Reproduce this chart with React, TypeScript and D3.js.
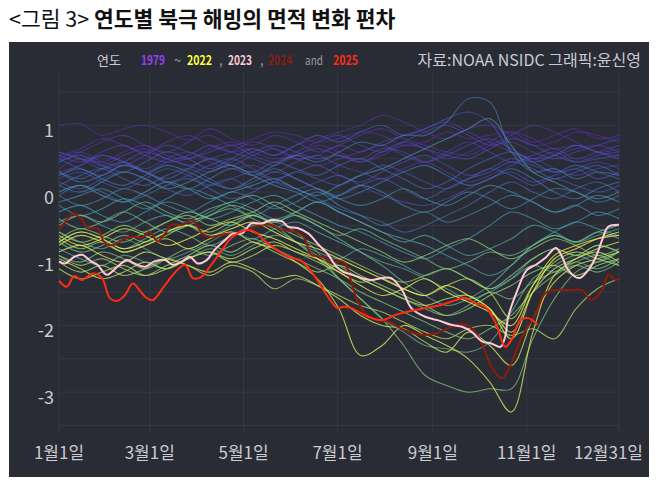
import React from 'react';
import * as d3 from 'd3';

// sample days for the background years (every 14 days)
const sampleDays = [0, 14, 28, 42, 56, 70, 84, 98, 112, 126, 140, 154, 168, 182, 196, 210, 224, 238, 252, 266, 280, 294, 308, 322, 336, 350, 364];

const bgYears = [1979, 1980, 1981, 1982, 1983, 1984, 1985, 1986, 1987, 1988, 1989, 1990, 1991, 1992, 1993, 1994, 1995, 1996, 1997, 1998, 1999, 2000, 2001, 2002, 2003, 2004, 2005, 2006, 2007, 2008, 2009, 2010, 2011, 2012, 2013, 2014, 2015, 2016, 2017, 2018, 2019, 2020, 2021, 2022];

const bgSeries: number[][] = [
  [1.0, 1.02, 0.85, 0.95, 1.0, 0.9, 0.78, 0.85, 0.7, 0.8, 0.9, 0.85, 0.75, 0.8, 0.9, 0.85, 0.7, 0.75, 0.9, 0.8, 0.85, 0.9, 0.75, 0.85, 0.95, 0.8, 0.85],
  [0.55, 0.65, 0.8, 0.7, 0.6, 0.75, 0.85, 0.7, 0.6, 0.65, 0.55, 0.7, 0.8, 0.9, 1.0, 1.15, 1.05, 0.9, 0.8, 0.95, 1.0, 0.85, 0.7, 0.75, 0.9, 0.85, 0.75],
  [0.6, 0.5, 0.45, 0.6, 0.7, 0.55, 0.5, 0.65, 0.75, 0.6, 0.5, 0.55, 0.7, 0.6, 0.45, 0.55, 0.7, 0.65, 0.5, 0.6, 0.75, 0.9, 0.8, 0.65, 0.7, 0.6, 0.55],
  [0.45, 0.6, 0.75, 0.85, 0.7, 0.6, 0.75, 0.95, 0.8, 0.7, 0.85, 0.75, 0.6, 0.7, 0.85, 0.95, 0.8, 0.7, 0.6, 0.55, 0.7, 0.85, 1.0, 0.9, 0.75, 0.6, 0.65],
  [0.35, 0.5, 0.4, 0.55, 0.65, 0.5, 0.4, 0.5, 0.6, 0.75, 0.65, 0.5, 0.55, 0.7, 0.6, 0.75, 0.85, 0.95, 1.05, 0.9, 0.75, 0.6, 0.5, 0.55, 0.65, 0.7, 0.6],
  [0.3, 0.4, 0.55, 0.45, 0.35, 0.5, 0.6, 0.45, 0.35, 0.4, 0.3, 0.45, 0.55, 0.4, 0.3, 0.2, 0.35, 0.45, 0.3, 0.15, 0.25, 0.4, 0.5, 0.35, 0.25, 0.35, 0.4],
  [0.5, 0.6, 0.45, 0.4, 0.55, 0.7, 0.6, 0.5, 0.4, 0.55, 0.65, 0.5, 0.4, 0.5, 0.6, 0.7, 0.55, 0.45, 0.6, 0.75, 0.6, 0.45, 0.55, 0.65, 0.5, 0.6, 0.7],
  [0.55, 0.45, 0.6, 0.7, 0.55, 0.45, 0.5, 0.6, 0.7, 0.55, 0.45, 0.6, 0.75, 0.85, 0.7, 0.6, 0.75, 0.9, 1.0, 0.85, 0.7, 0.75, 0.6, 0.5, 0.6, 0.7, 0.8],
  [0.25, 0.4, 0.55, 0.45, 0.3, 0.45, 0.55, 0.7, 0.6, 0.5, 0.4, 0.55, 0.65, 0.55, 0.5, 0.65, 0.6, 0.45, 0.55, 0.7, 0.8, 0.65, 0.5, 0.6, 0.45, 0.55, 0.6],
  [0.6, 0.5, 0.35, 0.45, 0.6, 0.5, 0.4, 0.3, 0.45, 0.6, 0.7, 0.6, 0.5, 0.55, 0.45, 0.6, 0.75, 0.65, 0.55, 0.5, 0.65, 0.8, 0.7, 0.55, 0.45, 0.5, 0.55],
  [0.5, 0.35, 0.25, 0.4, 0.3, 0.15, 0.25, 0.4, 0.5, 0.35, 0.2, 0.3, 0.4, 0.25, 0.15, 0.3, 0.45, 0.55, 0.4, 0.25, 0.35, 0.5, 0.4, 0.3, 0.35, 0.45, 0.35],
  [0.2, 0.3, 0.15, 0.05, 0.2, 0.35, 0.25, 0.1, 0.2, 0.3, 0.15, 0.05, 0.15, 0.25, 0.1, -0.05, -0.15, -0.2, -0.1, 0.05, 0.2, 0.3, 0.15, 0.25, 0.35, 0.2, 0.3],
  [0.15, 0.05, 0.2, 0.3, 0.2, 0.05, -0.05, 0.1, 0.2, 0.05, 0.15, 0.3, 0.2, 0.1, 0.25, 0.4, 0.3, 0.15, 0.05, 0.2, 0.35, 0.25, 0.1, 0.2, 0.1, 0.0, 0.1],
  [0.45, 0.55, 0.4, 0.3, 0.45, 0.6, 0.5, 0.35, 0.5, 0.65, 0.55, 0.7, 0.85, 0.75, 0.9, 1.0, 0.85, 0.95, 1.1, 1.2, 1.05, 0.6, 0.45, 0.55, 0.7, 0.6, 0.5],
  [0.1, 0.25, 0.35, 0.2, 0.1, 0.25, 0.35, 0.2, 0.05, 0.15, 0.3, 0.2, 0.05, -0.05, 0.1, 0.2, 0.05, -0.1, 0.05, 0.2, 0.3, 0.45, 0.35, 0.2, 0.3, 0.4, 0.25],
  [0.3, 0.2, 0.35, 0.45, 0.3, 0.2, 0.35, 0.5, 0.4, 0.3, 0.45, 0.35, 0.25, 0.4, 0.5, 0.35, 0.2, 0.05, 0.15, 0.35, 0.5, 0.6, 0.45, 0.3, 0.4, 0.3, 0.2],
  [-0.05, 0.1, 0.0, -0.15, -0.05, 0.1, 0.2, 0.05, -0.1, 0.0, 0.15, 0.05, -0.1, -0.25, -0.35, -0.45, -0.6, -0.5, -0.35, -0.2, 0.0, 0.15, 0.0, -0.1, 0.05, 0.15, 0.0],
  [0.3, 0.15, 0.25, 0.4, 0.3, 0.15, 0.05, 0.2, 0.35, 0.25, 0.4, 0.55, 0.45, 0.6, 0.75, 0.7, 0.85, 0.85, 1.05, 1.4, 1.35, 0.6, 0.3, 0.35, 0.2, 0.3, 0.25],
  [0.25, 0.35, 0.2, 0.1, 0.25, 0.4, 0.3, 0.15, 0.05, 0.2, 0.35, 0.2, 0.05, -0.1, 0.0, 0.15, 0.3, 0.4, 0.25, 0.1, 0.2, 0.35, 0.2, 0.0, -0.1, 0.05, 0.15],
  [0.1, 0.0, 0.15, 0.3, 0.2, 0.05, 0.15, 0.3, 0.4, 0.25, 0.1, 0.0, -0.15, -0.05, 0.1, 0.0, -0.2, -0.3, -0.15, 0.0, -0.1, -0.25, -0.1, 0.05, 0.0, -0.15, -0.05],
  [-0.05, -0.2, -0.1, 0.05, -0.05, -0.2, -0.3, -0.15, 0.0, -0.1, -0.25, -0.15, 0.0, -0.2, -0.35, -0.5, -0.4, -0.3, -0.45, -0.35, -0.2, -0.05, -0.15, -0.3, -0.2, -0.05, -0.15],
  [-0.15, -0.05, 0.05, -0.1, -0.25, -0.1, 0.05, -0.05, -0.2, -0.35, -0.2, -0.05, 0.05, -0.1, -0.2, -0.1, 0.05, -0.1, -0.2, -0.05, 0.1, 0.0, -0.15, -0.3, -0.2, -0.35, -0.25],
  [0.0, 0.1, -0.05, -0.15, 0.0, 0.15, 0.05, -0.1, 0.0, 0.1, 0.2, 0.05, -0.05, 0.1, 0.25, 0.35, 0.5, 0.65, 0.8, 0.95, 1.1, 0.7, 0.3, 0.15, 0.0, -0.1, 0.0],
  [-0.3, -0.2, -0.35, -0.45, -0.3, -0.15, -0.25, -0.4, -0.3, -0.15, -0.05, -0.2, -0.35, -0.5, -0.6, -0.75, -0.9, -1.0, -0.85, -0.7, -0.5, -0.3, -0.4, -0.55, -0.45, -0.3, -0.4],
  [-0.2, -0.35, -0.25, -0.1, -0.2, -0.35, -0.45, -0.3, -0.15, -0.25, -0.4, -0.3, -0.15, -0.3, -0.45, -0.6, -0.7, -0.8, -0.95, -1.1, -1.25, -1.1, -0.8, -0.6, -0.45, -0.55, -0.65],
  [-0.45, -0.35, -0.5, -0.6, -0.45, -0.35, -0.5, -0.65, -0.5, -0.35, -0.45, -0.3, -0.15, -0.3, -0.45, -0.6, -0.75, -0.65, -0.8, -0.95, -0.85, -0.7, -0.5, -0.6, -0.75, -0.65, -0.55],
  [-0.6, -0.75, -0.85, -0.7, -0.85, -1.0, -0.9, -0.75, -0.6, -0.7, -0.55, -0.45, -0.6, -0.75, -0.9, -1.05, -1.15, -1.3, -1.45, -1.6, -1.5, -1.3, -1.0, -0.85, -0.95, -0.8, -0.9],
  [-0.85, -1.0, -1.1, -0.95, -1.05, -1.15, -1.0, -0.85, -0.95, -0.8, -0.65, -0.75, -0.9, -1.0, -0.85, -0.95, -1.1, -1.25, -1.15, -1.3, -1.45, -1.3, -1.1, -1.2, -1.05, -0.95, -1.1],
  [-0.75, -0.6, -0.7, -0.85, -0.7, -0.55, -0.65, -0.8, -0.65, -0.5, -0.45, -0.6, -0.9, -1.3, -1.6, -1.9, -2.1, -2.3, -2.35, -2.4, -2.25, -1.8, -1.3, -1.1, -0.95, -1.05, -0.9],
  [-0.5, -0.35, -0.45, -0.3, -0.15, -0.3, -0.4, -0.25, -0.15, -0.05, -0.2, -0.35, -0.5, -0.7, -0.9, -1.1, -1.35, -1.55, -1.7, -1.6, -1.4, -1.1, -0.8, -0.65, -0.75, -0.6, -0.7],
  [-0.4, -0.55, -0.45, -0.3, -0.45, -0.6, -0.5, -0.35, -0.2, -0.3, -0.45, -0.35, -0.5, -0.65, -0.55, -0.7, -0.85, -1.0, -1.15, -1.05, -0.9, -0.95, -0.8, -0.65, -0.75, -0.6, -0.5],
  [-0.75, -0.9, -0.8, -0.65, -0.75, -0.6, -0.45, -0.35, -0.25, -0.4, -0.55, -0.75, -0.95, -1.1, -1.3, -1.45, -1.6, -1.75, -1.85, -1.7, -1.5, -1.6, -1.35, -1.2, -1.05, -1.15, -1.0],
  [-0.95, -1.05, -0.9, -1.0, -1.15, -1.0, -0.85, -0.95, -0.8, -0.7, -0.85, -1.0, -1.15, -1.3, -1.5, -1.65, -1.8, -1.95, -2.1, -2.2, -2.05, -1.85, -1.5, -1.25, -1.1, -1.2, -1.05],
  [-0.7, -0.55, -0.65, -0.75, -0.6, -0.45, -0.3, -0.4, -0.5, -0.35, -0.5, -0.75, -1.0, -1.3, -1.6, -1.9, -2.3, -2.75, -2.9, -3.0, -2.95, -2.95, -2.2, -1.6, -1.2, -1.05, -0.9],
  [-0.6, -0.75, -0.65, -0.5, -0.6, -0.45, -0.35, -0.5, -0.4, -0.3, -0.15, -0.3, -0.45, -0.6, -0.75, -0.9, -1.05, -0.95, -0.8, -0.7, -0.85, -1.0, -0.85, -0.7, -0.8, -0.95, -0.85],
  [-0.7, -0.85, -0.75, -0.9, -0.8, -0.65, -0.5, -0.6, -0.45, -0.35, -0.5, -0.65, -0.8, -0.95, -1.1, -1.25, -1.35, -1.25, -1.15, -1.3, -1.45, -1.25, -1.0, -0.85, -0.95, -0.8, -0.9],
  [-0.95, -1.1, -1.0, -1.15, -1.25, -1.1, -0.95, -0.8, -0.9, -0.75, -0.9, -1.05, -1.2, -1.1, -1.25, -1.4, -1.55, -1.7, -1.85, -1.75, -1.55, -1.4, -1.2, -1.1, -1.25, -1.1, -1.0],
  [-1.05, -1.2, -1.1, -1.25, -1.15, -1.0, -1.1, -1.25, -1.1, -1.2, -1.45, -1.3, -1.4, -1.55, -1.7, -1.8, -1.95, -2.1, -2.2, -2.05, -2.0, -2.15, -2.05, -2.2, -1.75, -1.45, -1.3],
  [-1.15, -1.3, -1.2, -1.1, -1.25, -1.15, -1.0, -0.9, -1.05, -0.95, -0.8, -0.9, -1.05, -1.2, -1.35, -1.3, -1.45, -1.55, -1.4, -1.3, -1.5, -1.9, -1.4, -1.05, -0.9, -1.0, -1.1],
  [-1.0, -1.15, -1.3, -1.2, -1.05, -1.15, -1.0, -0.9, -1.0, -0.85, -0.75, -0.9, -1.0, -1.15, -1.3, -1.45, -1.6, -1.7, -1.6, -1.55, -1.75, -2.1, -1.5, -1.15, -1.0, -0.9, -1.05],
  [-0.9, -0.8, -0.95, -1.05, -0.9, -1.0, -1.1, -1.2, -1.05, -1.15, -1.3, -1.25, -1.4, -1.6, -1.85, -2.0, -2.05, -2.25, -2.4, -2.1, -2.3, -2.6, -1.9, -1.35, -1.1, -1.0, -0.9],
  [-0.8, -0.65, -0.75, -0.9, -0.8, -0.7, -0.85, -0.7, -0.6, -0.75, -0.85, -1.05, -1.3, -1.75, -2.45, -2.3, -2.0, -2.15, -2.3, -2.5, -2.85, -3.3, -2.1, -1.25, -1.0, -0.85, -0.75],
  [-0.65, -0.8, -0.7, -0.55, -0.65, -0.8, -0.7, -0.55, -0.45, -0.6, -0.7, -0.85, -1.0, -1.2, -1.4, -1.55, -1.45, -1.3, -1.5, -1.65, -1.8, -2.0, -1.4, -0.95, -0.8, -0.7, -0.65],
  [-0.75, -0.6, -0.7, -0.85, -0.75, -0.6, -0.5, -0.65, -0.55, -0.45, -0.6, -0.75, -0.85, -1.0, -1.15, -1.3, -1.45, -1.55, -1.4, -1.55, -1.75, -2.2, -1.5, -1.0, -0.85, -0.7, -0.6],
];

const days2023 = [0, 4, 10, 15, 21, 25, 31, 38, 44, 49, 56, 62, 69, 74, 80, 85, 90, 96, 101, 108, 113, 119, 125, 132, 138, 145, 149, 155, 162, 168, 175, 180, 185, 188, 197, 203, 210, 216, 223, 229, 238, 246, 255, 262, 268, 275, 281, 287, 290, 292, 298, 304, 310, 316, 323, 327, 331, 338, 344, 349, 353, 357, 364];
const vals2023 = [-1.04, -1.07, -0.97, -0.94, -1.04, -1.09, -1.24, -1.12, -1.02, -1.07, -1.12, -1.04, -1.02, -1.09, -1.04, -0.97, -1.07, -1.02, -0.87, -0.72, -0.62, -0.62, -0.47, -0.47, -0.42, -0.44, -0.52, -0.54, -0.62, -0.77, -0.94, -1.11, -1.2, -1.22, -1.29, -1.32, -1.29, -1.29, -1.47, -1.74, -1.87, -1.92, -1.99, -2.02, -2.09, -2.24, -2.27, -2.32, -2.17, -1.87, -1.47, -1.17, -1.09, -0.99, -0.84, -0.97, -1.17, -1.29, -1.17, -0.97, -0.72, -0.52, -0.49];

const days2024 = [0, 5, 9, 14, 19, 25, 30, 36, 43, 49, 54, 59, 64, 69, 73, 80, 87, 93, 99, 106, 112, 119, 125, 132, 138, 145, 153, 159, 164, 171, 177, 184, 186, 193, 199, 207, 214, 220, 227, 236, 245, 253, 262, 268, 275, 281, 288, 293, 301, 310, 316, 323, 331, 340, 346, 353, 357, 362, 364];
const vals2024 = [-0.57, -0.42, -0.33, -0.39, -0.54, -0.54, -0.77, -0.79, -0.69, -0.67, -0.69, -0.59, -0.74, -0.62, -0.49, -0.49, -0.42, -0.62, -0.67, -0.64, -0.62, -0.59, -0.54, -0.49, -0.49, -0.57, -0.59, -0.67, -0.94, -0.97, -1.04, -1.04, -1.07, -1.57, -1.82, -1.92, -1.94, -2.02, -2.09, -2.14, -2.12, -2.04, -1.97, -2.04, -2.27, -2.62, -2.79, -2.62, -2.17, -1.82, -1.52, -1.47, -1.47, -1.47, -1.62, -1.47, -1.24, -1.32, -1.29];

const days2025 = [0, 5, 10, 15, 22, 28, 33, 38, 43, 48, 53, 57, 61, 69, 76, 82, 87, 92, 99, 106, 112, 122, 129, 133, 140, 149, 158, 167, 173, 181, 185, 190, 201, 210, 219, 227, 238, 249, 258, 264, 271, 277, 284, 290, 294, 300, 305, 311];
const vals2025 = [-1.33, -1.42, -1.26, -1.32, -1.22, -1.29, -1.59, -1.63, -1.54, -1.37, -1.49, -1.59, -1.62, -1.39, -1.19, -1.09, -1.29, -1.28, -1.09, -0.87, -0.69, -0.57, -0.62, -0.72, -0.84, -0.97, -1.04, -1.29, -1.51, -1.74, -1.72, -1.74, -1.87, -1.92, -1.84, -1.79, -1.74, -1.69, -1.62, -1.59, -1.67, -1.72, -1.97, -2.32, -2.22, -1.92, -1.89, -1.99];

const xTickDays = [0, 59, 120, 181, 243, 304, 364];
const xTickLabels = ['1월1일', '3월1일', '5월1일', '7월1일', '9월1일', '11월1일', '12월31일'];
const yTicks = [1, 0, -1, -2, -3];
const yGrid = [1.5, 1, 0.5, 0, -0.5, -1, -1.5, -2, -2.5, -3, -3.5];

const KR = '"Noto Sans CJK KR", "Noto Sans", sans-serif';

export default function App() {
  const width = 658;
  const height = 488;

  const x = d3.scaleLinear().domain([0, 364]).range([59, 619]);
  const y = d3.scaleLinear().domain([-3.5, 1.5]).range([425.5, 92]);

  const color = d3.scaleLinear<string>()
    .domain([0, 0.3, 0.55, 0.8, 1])
    .range(['#6a2cc4', '#4a5cc4', '#4aa2ac', '#8ecb72', '#eef050'])
    .interpolate(d3.interpolateRgb);

  const line = d3.line<[number, number]>()
    .x(d => x(d[0]))
    .y(d => y(d[1]))
    .curve(d3.curveCatmullRom.alpha(0.5));

  const zip = (ds: number[], vs: number[]) => ds.map((d, i) => [d, vs[i]] as [number, number]);

  const highlights = [
    { days: days2024, vals: vals2024, stroke: '#8e1b0c' },
    { days: days2023, vals: vals2023, stroke: '#ffcad8' },
    { days: days2025, vals: vals2025, stroke: '#ff2c12' },
  ];

  return (
    <div style={{ position: 'absolute', left: 0, top: 0, background: '#fff' }}>
      <svg width={width} height={height} style={{ display: 'block' }}>
        <rect x={0} y={0} width={width} height={height} fill="#fff" />
        <text x={9} y={27} fontFamily={KR} fontSize={21.5} fill="#111">
          <tspan fontWeight={400}>{'<그림 3> '}</tspan>
          <tspan fontWeight={700}>연도별 북극 해빙의 면적 변화 편차</tspan>
        </text>

        <rect x={9} y={42} width={640} height={435} fill="#292c35" />

        {/* grid */}
        {yGrid.map(v => (
          <line key={'h' + v} x1={59} x2={619} y1={y(v)} y2={y(v)} stroke="#353844" strokeWidth={1} />
        ))}
        {xTickDays.map(d => (
          <line key={'v' + d} x1={x(d)} x2={x(d)} y1={72} y2={432} stroke="#353844" strokeWidth={1} />
        ))}

        {/* background years */}
        {bgSeries.map((vals, i) => (
          <path
            key={bgYears[i]}
            d={line(zip(sampleDays, vals)) || ''}
            fill="none"
            stroke={color(i / (bgYears.length - 1))}
            strokeOpacity={0.5 + 0.32 * (i / (bgYears.length - 1))}
            strokeWidth={1.1}
          />
        ))}

        {/* highlighted years */}
        {highlights.map((h, i) => (
          <path key={'hl' + i} d={line(zip(h.days, h.vals)) || ''} fill="none" stroke={h.stroke} strokeWidth={2} />
        ))}

        {/* axes labels */}
        {yTicks.map(v => (
          <text key={'yt' + v} x={54} y={y(v) + 12} textAnchor="end" fontFamily={KR} fontSize={18} fill="#c9cbd0">
            {v}
          </text>
        ))}
        {xTickDays.map((d, i) => {
          const last = i === xTickDays.length - 1;
          return (
            <text
              key={'xt' + d}
              x={last ? 643 : x(d)}
              y={459}
              textAnchor={last ? 'end' : 'middle'}
              fontFamily={KR}
              fontSize={17}
              fill="#c9cbd0"
            >
              {xTickLabels[i]}
            </text>
          );
        })}

        {/* legend */}
        <g fontFamily={KR} fontSize={13}>
          <text x={97} y={65} fill="#c9cbd0">연도</text>
          <text x={141} y={65} fill="#9440f2" fontWeight={700} textLength={24} lengthAdjust="spacingAndGlyphs">1979</text>
          <text x={174} y={65} fill="#999">~</text>
          <text x={187} y={65} fill="#ffff3a" fontWeight={700} textLength={25} lengthAdjust="spacingAndGlyphs">2022</text>
          <text x={219} y={65} fill="#999">,</text>
          <text x={228} y={65} fill="#ffcad8" fontWeight={700} textLength={24} lengthAdjust="spacingAndGlyphs">2023</text>
          <text x={260} y={65} fill="#999">,</text>
          <text x={268} y={65} fill="#8e1b0c" fontWeight={700} textLength={24} lengthAdjust="spacingAndGlyphs">2024</text>
          <text x={305} y={65} fill="#999" textLength={18} lengthAdjust="spacingAndGlyphs">and</text>
          <text x={333} y={65} fill="#ff2c12" fontWeight={700} textLength={25} lengthAdjust="spacingAndGlyphs">2025</text>
        </g>
        <text x={641} y={66} textAnchor="end" fontFamily={KR} fontSize={16} fill="#c9cbd0">
          자료:NOAA NSIDC 그래픽:윤신영
        </text>
      </svg>
    </div>
  );
}
